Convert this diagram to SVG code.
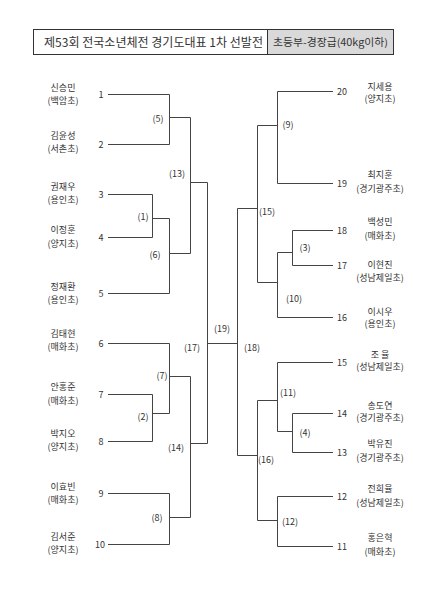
<svg xmlns="http://www.w3.org/2000/svg" width="424" height="600" viewBox="0 0 424 600">
<style>
text{font-family:"Noto Sans CJK KR","Noto Sans",sans-serif;fill:#333;}
.nm{font-size:9px;text-anchor:middle;}
.sd{font-size:9px;}
.sl{text-anchor:middle;}
.mt{font-size:9px;text-anchor:middle;}
.ln{fill:none;stroke:#444;stroke-width:1;}
</style>
<rect width="424" height="600" fill="#fff"/>
<g id="title">
<rect x="33.5" y="29.5" width="360" height="25" fill="#fff" stroke="#333"/>
<rect x="267.5" y="29.5" width="126" height="25" fill="#d9d9d9" stroke="#333"/>
<text x="44" y="46.5" font-size="12" textLength="219" lengthAdjust="spacingAndGlyphs">제53회 전국소년체전 경기도대표 1차 선발전</text>
<text x="273" y="46" font-size="10" textLength="115" lengthAdjust="spacingAndGlyphs">초등부-경장급(40kg이하)</text>
</g>
<g id="connectors" class="ln">
<path d="M108 94.5H169.5V144.5H108"/>
<path d="M108 194.5H152.5V237.5H108"/>
<path d="M152.5 218.5H169.5"/>
<path d="M108 293.5H169.5V218.5"/>
<path d="M169.5 117.5H190.5V253.5H169.5"/>
<path d="M190.5 182.5H207.5"/>
<path d="M108 343.5H169.5V413.5"/>
<path d="M108 394.5H152.5V441.5H108"/>
<path d="M152.5 413.5H169.5"/>
<path d="M169.5 376.5H190.5V517.5"/>
<path d="M108 493.5H169.5V544.5H108"/>
<path d="M169.5 517.5H190.5"/>
<path d="M190.5 443.5H207.5"/>
<path d="M207.5 182.5V443.5"/>
<path d="M207.5 343.5H237.5"/>
<path d="M237.5 208.5V455.5"/>
<path d="M237.5 208.5H257.5"/>
<path d="M237.5 455.5H257.5"/>
<path d="M333 91.5H277.5V183.5H333"/>
<path d="M257.5 125.5H277.5"/>
<path d="M257.5 125.5V282.5H277.5"/>
<path d="M333 230.5H292.5V265.5H333"/>
<path d="M277.5 252.5H292.5"/>
<path d="M277.5 252.5V317.5H333"/>
<path d="M333 362.5H277.5V431.5H292.5"/>
<path d="M333 413.5H292.5V452.5H333"/>
<path d="M257.5 400.5H277.5"/>
<path d="M257.5 400.5V520.5H277.5"/>
<path d="M333 496.5H277.5V546.5H333"/>
</g>
<g id="p1"><text class="nm" x="63" y="91">신승민</text><text class="nm" x="63" y="104">(백암초)</text><text class="sd sl" x="101" y="97.5">1</text></g>
<g id="p2"><text class="nm" x="63" y="139">김윤성</text><text class="nm" x="63" y="152">(서촌초)</text><text class="sd sl" x="101" y="147.5">2</text></g>
<g id="p3"><text class="nm" x="63" y="190">권재우</text><text class="nm" x="63" y="203">(용인초)</text><text class="sd sl" x="101" y="197.5">3</text></g>
<g id="p4"><text class="nm" x="63" y="233">이정훈</text><text class="nm" x="63" y="247">(양지초)</text><text class="sd sl" x="101" y="240.5">4</text></g>
<g id="p5"><text class="nm" x="63" y="290">정재환</text><text class="nm" x="63" y="303">(용인초)</text><text class="sd sl" x="101" y="296.5">5</text></g>
<g id="p6"><text class="nm" x="63" y="337">김태현</text><text class="nm" x="63" y="350">(매화초)</text><text class="sd sl" x="101" y="346.5">6</text></g>
<g id="p7"><text class="nm" x="63" y="390">안홍준</text><text class="nm" x="63" y="404">(매화초)</text><text class="sd sl" x="101" y="397.5">7</text></g>
<g id="p8"><text class="nm" x="63" y="437">박지오</text><text class="nm" x="63" y="450">(양지초)</text><text class="sd sl" x="101" y="444.5">8</text></g>
<g id="p9"><text class="nm" x="63" y="490">이효빈</text><text class="nm" x="63" y="503">(매화초)</text><text class="sd sl" x="101" y="496.5">9</text></g>
<g id="p10"><text class="nm" x="63" y="540">김서준</text><text class="nm" x="63" y="553">(양지초)</text><text class="sd sl" x="100" y="547.5">10</text></g>
<g id="p20"><text class="nm" x="380" y="90">지세용</text><text class="nm" x="380" y="102">(양지초)</text><text class="sd" x="337" y="94.5">20</text></g>
<g id="p19"><text class="nm" x="380" y="178">최지훈</text><text class="nm" x="380" y="192">(경기광주초)</text><text class="sd" x="337" y="186.5">19</text></g>
<g id="p18"><text class="nm" x="380" y="225">백성민</text><text class="nm" x="380" y="239">(매화초)</text><text class="sd" x="337" y="233.5">18</text></g>
<g id="p17"><text class="nm" x="380" y="268">이현진</text><text class="nm" x="380" y="281">(성남제일초)</text><text class="sd" x="337" y="268.5">17</text></g>
<g id="p16"><text class="nm" x="380" y="315">이시우</text><text class="nm" x="380" y="327">(용인초)</text><text class="sd" x="337" y="320.5">16</text></g>
<g id="p15"><text class="nm" x="380" y="358">조 율</text><text class="nm" x="380" y="370">(성남제일초)</text><text class="sd" x="337" y="365.5">15</text></g>
<g id="p14"><text class="nm" x="380" y="409">송도연</text><text class="nm" x="380" y="421">(경기광주초)</text><text class="sd" x="337" y="416.5">14</text></g>
<g id="p13"><text class="nm" x="380" y="447">박유진</text><text class="nm" x="380" y="461">(경기광주초)</text><text class="sd" x="337" y="455.5">13</text></g>
<g id="p12"><text class="nm" x="380" y="492">전희율</text><text class="nm" x="380" y="506">(성남제일초)</text><text class="sd" x="337" y="499.5">12</text></g>
<g id="p11"><text class="nm" x="380" y="541">홍은혁</text><text class="nm" x="380" y="555">(매화초)</text><text class="sd" x="337" y="549.5">11</text></g>
<g id="m5"><text class="mt" x="158" y="122">(5)</text></g>
<g id="m13"><text class="mt" x="177" y="177">(13)</text></g>
<g id="m1"><text class="mt" x="143" y="220">(1)</text></g>
<g id="m6"><text class="mt" x="155" y="258">(6)</text></g>
<g id="m17"><text class="mt" x="192" y="351">(17)</text></g>
<g id="m7"><text class="mt" x="162" y="379">(7)</text></g>
<g id="m2"><text class="mt" x="143" y="420">(2)</text></g>
<g id="m14"><text class="mt" x="176" y="451">(14)</text></g>
<g id="m8"><text class="mt" x="157" y="521">(8)</text></g>
<g id="m19"><text class="mt" x="222" y="332">(19)</text></g>
<g id="m18"><text class="mt" x="252" y="351">(18)</text></g>
<g id="m9"><text class="mt" x="288" y="128">(9)</text></g>
<g id="m15"><text class="mt" x="267" y="215">(15)</text></g>
<g id="m3"><text class="mt" x="305" y="251">(3)</text></g>
<g id="m10"><text class="mt" x="294" y="302">(10)</text></g>
<g id="m11"><text class="mt" x="288" y="396">(11)</text></g>
<g id="m4"><text class="mt" x="305" y="436">(4)</text></g>
<g id="m16"><text class="mt" x="266" y="463">(16)</text></g>
<g id="m12"><text class="mt" x="290" y="525">(12)</text></g>
</svg>
